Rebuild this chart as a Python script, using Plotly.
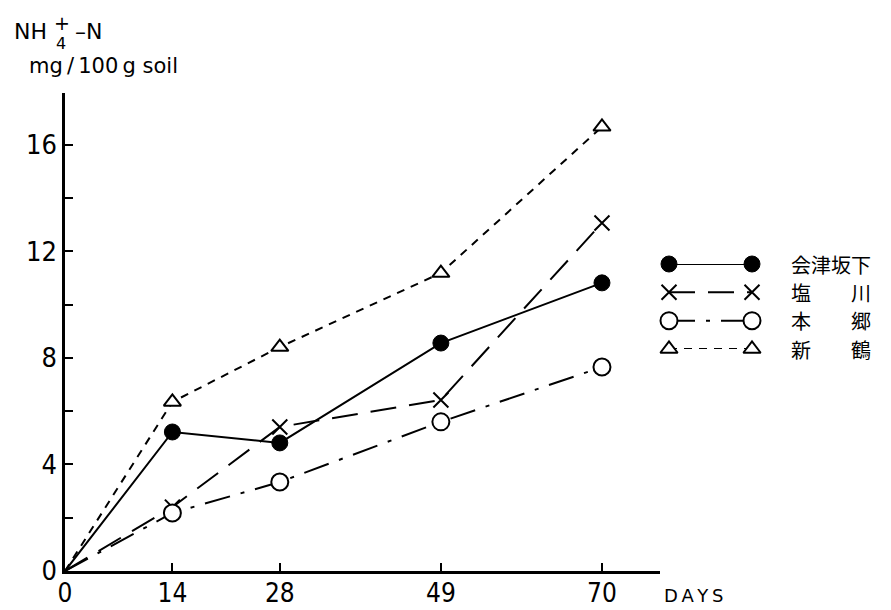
import plotly.graph_objects as go

# Incubation days and NH4+-N (mg / 100 g soil) for each soil
days = [0, 14, 28, 49, 70]
aizubange = [0, 5.22, 4.81, 8.56, 10.82]
shiokawa = [0, 2.40, 5.41, 6.42, 13.07]
hongo = [0, 2.18, 3.34, 5.60, 7.66]
niitsuru = [0, 6.35, 8.41, 11.19, 16.68]

soil_names = ["会津坂下", "塩\u3000\u3000川", "本\u3000\u3000郷", "新\u3000\u3000鶴"]
x_ticks = [0, 14, 28, 49, 70]
y_ticks = [0, 2, 4, 6, 8, 10, 12, 14, 16]
y_tick_text = ["0", "", "4", "", "8", "", "12", "", "16"]

W, H = 891, 610
ML, MR, MT, MB = 65, 10, 93, 39
PW, PH = W - ML - MR, H - MT - MB
AXIS_RIGHT = 660  # right end of the day axis, px


def xp(px):
    return (px - ML) / PW


def yp(py):
    return (H - MB - py) / PH


NUM_FAMILY = "Liberation Sans Narrow, DejaVu Sans Condensed, sans-serif"
CJK = "Noto Sans CJK JP"

styles = [
    dict(dash="solid", marker=dict(symbol="circle", size=16, color="black",
                                   line=dict(color="black", width=1))),
    dict(dash="26px,13px", marker=dict(symbol="x-thin", size=15, color="black",
                                       line=dict(color="black", width=2))),
    dict(dash="26px,11px,4px,11px", marker=dict(symbol="circle", size=17, color="white",
                                                line=dict(color="black", width=2))),
    dict(dash="8px,7px", marker=dict(symbol="triangle-up", size=15, color="white",
                                     line=dict(color="black", width=2))),
]
series = [aizubange, shiokawa, hongo, niitsuru]

fig = go.Figure()
for vals, st, name in zip(series, styles, soil_names):
    fig.add_trace(go.Scatter(
        x=days, y=vals, mode="lines", name=name, showlegend=False,
        line=dict(color="black", width=2, dash=st["dash"]), cliponaxis=False,
    ))
for vals, st, name in zip(series, styles, soil_names):
    fig.add_trace(go.Scatter(
        x=days[1:], y=vals[1:], mode="markers", name=name, showlegend=False,
        marker=st["marker"], cliponaxis=False,
    ))

# Key: sample line with a marker at both ends, one row per soil
for row, (st, name) in enumerate(zip(styles, soil_names)):
    fig.add_trace(go.Scatter(
        x=[0, 1], y=[row, row], mode="lines+markers", xaxis="x2", yaxis="y2",
        line=dict(color="black", width=2, dash=st["dash"]),
        marker=st["marker"], showlegend=False, cliponaxis=False,
    ))
    fig.add_annotation(xref="paper", yref="y2", x=xp(789), y=row, text=name,
                       showarrow=False, xanchor="left", yanchor="middle",
                       font=dict(family=CJK, size=20, color="black"))

fig.update_layout(
    width=W, height=H, margin=dict(l=ML, r=MR, t=MT, b=MB, autoexpand=False),
    paper_bgcolor="white", plot_bgcolor="white",
    xaxis=dict(domain=[0, xp(AXIS_RIGHT)], range=[0, (AXIS_RIGHT - ML) / 7.671],
               tickvals=x_ticks, ticktext=[str(v) for v in x_ticks],
               ticks="inside", ticklen=8, tickwidth=1.5, tickcolor="black",
               showline=True, linecolor="black", linewidth=2.5, automargin=False,
               ticklabelstandoff=-3,
               showgrid=False, zeroline=False,
               tickfont=dict(family=NUM_FAMILY, size=26, color="black")),
    yaxis=dict(range=[0, 17.95], tickvals=y_ticks, ticktext=y_tick_text,
               ticks="inside", ticklen=8, tickwidth=1.5, tickcolor="black",
               showline=True, linecolor="black", linewidth=2.5, automargin=False,
               showgrid=False, zeroline=False,
               tickfont=dict(family=NUM_FAMILY, size=27, color="black")),
    xaxis2=dict(domain=[xp(669), xp(752)], range=[0, 1], visible=False,
                anchor="y2", fixedrange=True),
    yaxis2=dict(domain=[yp(349), yp(264)], range=[3, 0], visible=False,
                anchor="x2", fixedrange=True),
)

# Axis titles
TXT = "DejaVu Sans, sans-serif"
fig.add_annotation(xref="paper", yref="paper", x=xp(12), y=yp(31), text="NH",
                   showarrow=False, xanchor="left", yanchor="middle",
                   font=dict(family=TXT, size=22, color="black"))
fig.add_annotation(xref="paper", yref="paper", x=xp(62), y=yp(23), text="+",
                   showarrow=False, xanchor="center", yanchor="middle",
                   font=dict(family=TXT, size=19, color="black"))
fig.add_annotation(xref="paper", yref="paper", x=xp(61), y=yp(44), text="4",
                   showarrow=False, xanchor="center", yanchor="middle",
                   font=dict(family=TXT, size=16, color="black"))
fig.add_annotation(xref="paper", yref="paper", x=xp(73), y=yp(31), text="–N",
                   showarrow=False, xanchor="left", yanchor="middle",
                   font=dict(family=TXT, size=22, color="black"))
fig.add_annotation(xref="paper", yref="paper", x=xp(27), y=yp(66),
                   text="mg\u2009/\u2009100\u2009g soil",
                   showarrow=False, xanchor="left", yanchor="middle",
                   font=dict(family=TXT, size=21, color="black"))
fig.add_annotation(xref="paper", yref="paper", x=xp(662), y=yp(595),
                   text="D\u2009A\u2009Y\u2009S",
                   showarrow=False, xanchor="left", yanchor="middle",
                   font=dict(family=TXT, size=18, color="black"))

fig.write_html("out.html")
